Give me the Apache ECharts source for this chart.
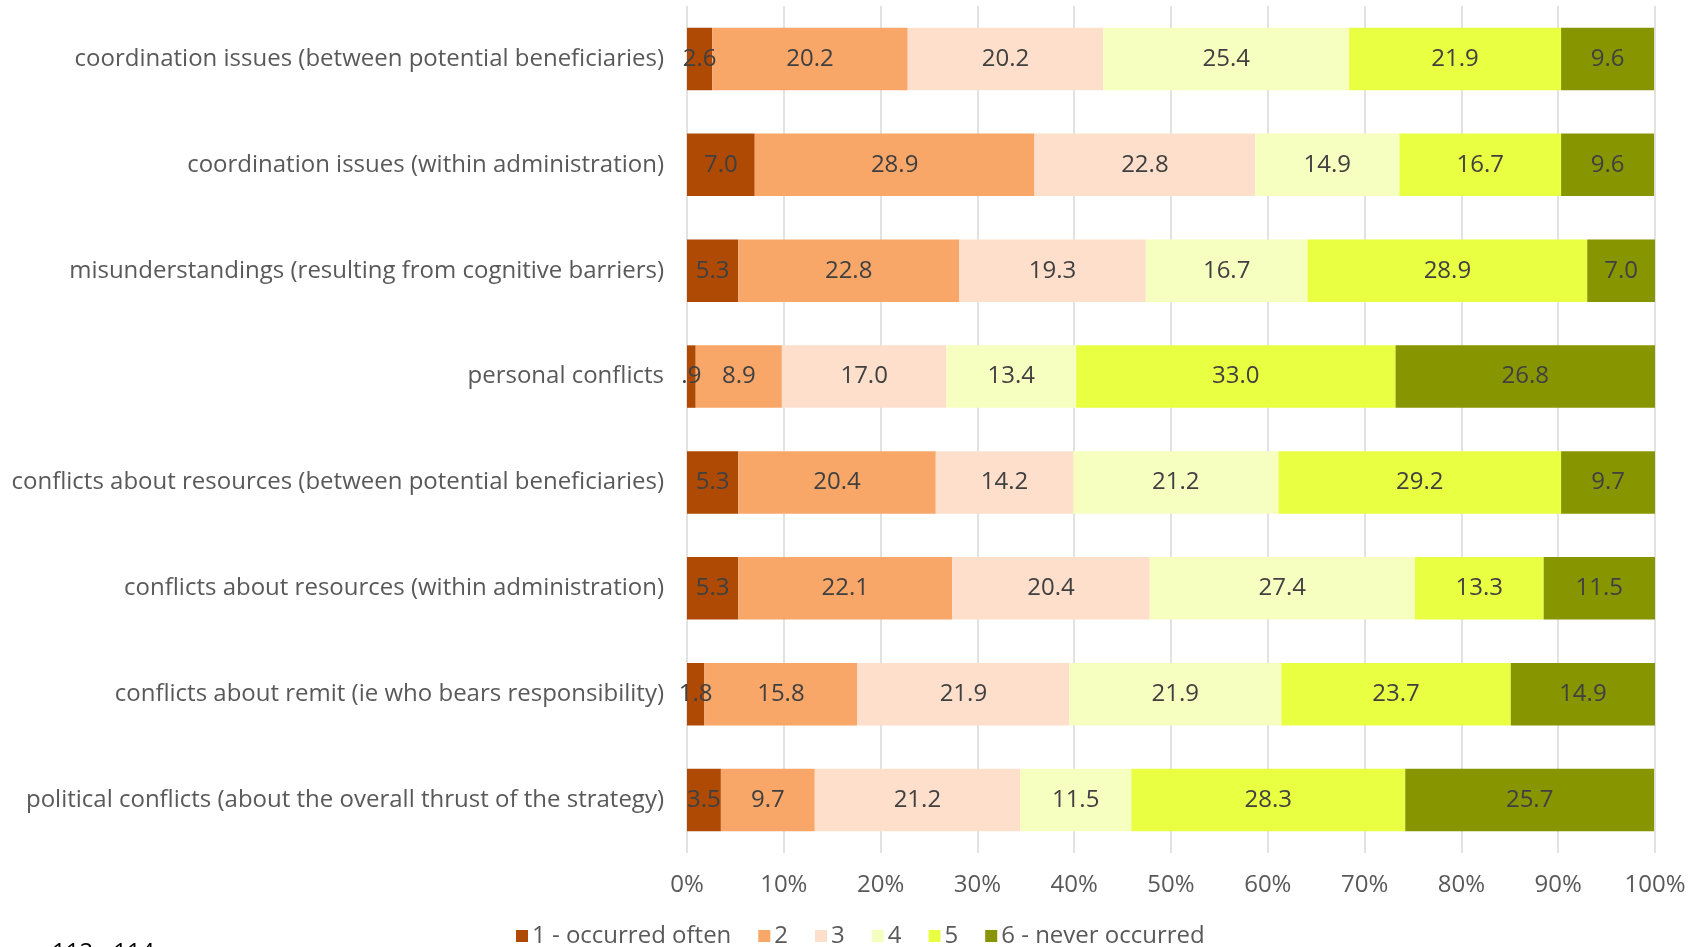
<!DOCTYPE html>
<html>
<head>
<meta charset="utf-8">
<script src="https://cdn.jsdelivr.net/npm/echarts@6/dist/echarts.min.js"></script>
<style>
    html, body { margin: 0; padding: 0; background: #fff; }
    #chart { width: 1700px; height: 947px; }
</style>
</head>
<body>
<div id="chart"></div>
<script>
// categories, top to bottom
var categories = [
    "coordination issues (between potential beneficiaries)",
    "coordination issues (within administration)",
    "misunderstandings (resulting from cognitive barriers)",
    "personal conflicts",
    "conflicts about resources (between potential beneficiaries)",
    "conflicts about resources (within administration)",
    "conflicts about remit (ie who bears responsibility)",
    "political conflicts (about the overall thrust of the strategy)",
];
var seriesNames = ["1 - occurred often", "2", "3", "4", "5", "6 - never occurred"];
var occurredOften = [2.6, 7.0, 5.3, 0.9, 5.3, 5.3, 1.8, 3.5];
var rating2 = [20.2, 28.9, 22.8, 8.9, 20.4, 22.1, 15.8, 9.7];
var rating3 = [20.2, 22.8, 19.3, 17.0, 14.2, 20.4, 21.9, 21.2];
var rating4 = [25.4, 14.9, 16.7, 13.4, 21.2, 27.4, 21.9, 11.5];
var rating5 = [21.9, 16.7, 28.9, 33.0, 29.2, 13.3, 23.7, 28.3];
var neverOccurred = [9.6, 9.6, 7.0, 26.8, 9.7, 11.5, 14.9, 25.7];
var tickLabels = ["0%", "10%", "20%", "30%", "40%", "50%", "60%", "70%", "80%", "90%", "100%"];

var allSeries = [occurredOften, rating2, rating3, rating4, rating5, neverOccurred];
var colors = ["#AE4A04", "#F8A769", "#FDDFCB", "#F6FEC0", "#E9FF42", "#879600"];
var FONT = "'Open Sans', sans-serif";
var FS = 24;

var chart = echarts.init(document.getElementById("chart"));

//excel style: .9 instead of 0.9
function fmtLabel(p) {
    var s = p.value.toFixed(1);
    return p.value < 1 ? s.substring(1) : s;
}

var option = {
    backgroundColor: "#fff",
    animation: false,
    textStyle: { fontFamily: FONT },
    grid: {
        left: 687,
        right: 45,
        top: 6,
        bottom: 94,
        containLabel: false,
    },
    legend: {
        left: 511,
        top: 919,
        itemWidth: 12,
        itemHeight: 12,
        itemGap: 27,
        icon: "rect",
        textStyle: { fontFamily: FONT, fontSize: FS, color: "#595959", padding: [0, 0, 0, -1] },
        data: seriesNames,
    },
    xAxis: {
        type: "value",
        min: 0,
        max: 100,
        interval: 10,
        axisLine: { show: false },
        axisTick: { show: false },
        splitLine: { lineStyle: { color: "#D9D9D9", width: 1.5 } },
        axisLabel: {
            fontFamily: FONT,
            fontSize: FS,
            color: "#595959",
            margin: 20,
            formatter: function (v) {
                return tickLabels[Math.round(v / 10)];
            },
        },
    },
    yAxis: {
        type: "category",
        inverse: true,
        data: categories,
        axisLine: { show: false },
        axisTick: { show: false },
        axisLabel: { fontFamily: FONT, fontSize: FS, color: "#595959", margin: 23 },
    },
    series: allSeries.map(function (vals, i) {
        return {
            name: seriesNames[i],
            type: "bar",
            stack: "total",
            barCategoryGap: "41%",
            itemStyle: { color: colors[i] },
            label: {
                show: true,
                position: "inside",
                fontFamily: FONT,
                fontSize: FS,
                color: "#404040",
                formatter: fmtLabel,
            },
            data: vals,
        };
    }),
    graphic: [
        {
            type: "text",
            left: 52,
            top: 941,
            style: { text: "112 - 114", font: FS + "px " + FONT, fill: "#000" },
        },
    ],
};
chart.setOption(option);
</script>
</body>
</html>
